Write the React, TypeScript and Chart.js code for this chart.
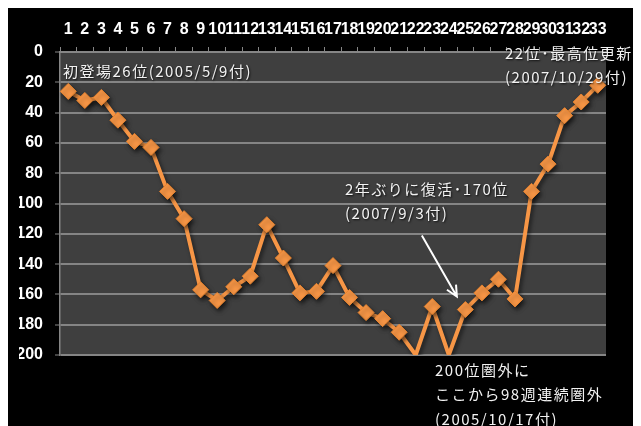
import React, { useEffect, useRef } from "react";
import { Chart, registerables } from "chart.js";

Chart.register(...registerables);

const weekLabels = [
  "1", "2", "3", "4", "5", "6", "7", "8", "9", "10", "11",
  "12", "13", "14", "15", "16", "17", "18", "19", "20", "21", "22",
  "23", "24", "25", "26", "27", "28", "29", "30", "31", "32", "33",
];

const ranks = [
  26, 32, 30, 45, 59, 63, 92, 110, 157, 164, 155,
  148, 114, 136, 159, 158, 141, 162, 172, 176, 185, 200,
  168, 200, 170, 159, 150, 163, 92, 74, 42, 33, 22,
];

const rankTicks = [0, 20, 40, 60, 80, 100, 120, 140, 160, 180, 200];

const annotationFirst = "初登場26位(2005/5/9付)";
const annotationBest = ["22位･最高位更新", "(2007/10/29付)"];
const annotationRevive = ["2年ぶりに復活･170位", "(2007/9/3付)"];
const annotationOut = ["200位圏外に", "ここから98週連続圏外", "(2005/10/17付)"];
const reviveIndex = 24;

const LINE = "#F79646";
const AXIS = "#868686";
const tickFont = { family: "'Liberation Sans Narrow', 'Liberation Sans', Arial, sans-serif", size: 16, weight: "bold" as const };
const jpFont = "15px 'Noto Sans CJK JP', sans-serif";

export default function App() {
  const ref = useRef<HTMLCanvasElement | null>(null);

  useEffect(() => {
    document.body.style.overflow = "hidden";
    const canvas = ref.current!;

    const bgPlugin = {
      id: "bg",
      beforeDraw(chart: any) {
        const { ctx, chartArea } = chart;
        ctx.save();
        ctx.fillStyle = "#000000";
        ctx.fillRect(0, 0, chart.width, chart.height);
        ctx.fillStyle = "#3f3f3f";
        ctx.fillRect(chartArea.left, chartArea.top, chartArea.right - chartArea.left, chartArea.bottom - chartArea.top);
        ctx.restore();
      },
    };

    const shadowPlugin = {
      id: "shadow",
      beforeDatasetsDraw(chart: any) {
        const ctx = chart.ctx;
        ctx.save();
        ctx.shadowColor = "rgba(0,0,0,0.55)";
        ctx.shadowBlur = 4;
        ctx.shadowOffsetX = 2;
        ctx.shadowOffsetY = 3;
      },
      afterDatasetsDraw(chart: any) {
        chart.ctx.restore();
      },
    };

    const textPlugin = {
      id: "notes",
      afterDraw(chart: any) {
        const ctx = chart.ctx;
        const xs = chart.scales.x;
        const ys = chart.scales.y;
        ctx.save();
        ctx.font = jpFont;
        (ctx as any).letterSpacing = "1.5px";
        ctx.textBaseline = "middle";
        ctx.textAlign = "left";
        ctx.shadowColor = "rgba(0,0,0,0.8)";
        ctx.shadowBlur = 2;
        ctx.shadowOffsetX = 1;
        ctx.shadowOffsetY = 1;
        ctx.fillStyle = "#f2f2f2";
        const put = (lines: string[], x: number, y: number) => {
          lines.forEach((t, i) => ctx.fillText(t, x, y + i * 24.5));
        };
        put([annotationFirst], 55, 63);
        put(annotationBest, 497, 45);
        put(annotationRevive, 337, 181);
        put(annotationOut, 427, 362);

        // arrow to the revival point
        const px = xs.getPixelForValue(reviveIndex);
        const py = ys.getPixelForValue(ranks[reviveIndex]);
        const tx = px - 8.5;
        const ty = py - 13;
        const sx = px - 43.5;
        const sy = py - 74;
        ctx.shadowColor = "rgba(0,0,0,0)";
        ctx.strokeStyle = "#ffffff";
        ctx.lineWidth = 2;
        ctx.beginPath();
        ctx.moveTo(sx, sy);
        ctx.lineTo(tx, ty);
        const ang = Math.atan2(ty - sy, tx - sx);
        const len = 12;
        ctx.moveTo(tx - len * Math.cos(ang - 0.45), ty - len * Math.sin(ang - 0.45));
        ctx.lineTo(tx, ty);
        ctx.lineTo(tx - len * Math.cos(ang + 0.45), ty - len * Math.sin(ang + 0.45));
        ctx.stroke();
        ctx.restore();
      },
    };

    const chart = new Chart(canvas, {
      type: "line",
      data: {
        labels: weekLabels,
        datasets: [
          {
            data: ranks,
            borderColor: LINE,
            borderWidth: 4,
            tension: 0,
            pointStyle: "rectRot",
            pointRadius: (c: any) => (ranks[c.dataIndex] >= 200 ? 0 : 8),
            pointBackgroundColor: LINE,
            pointBorderColor: "#E8842F",
            pointBorderWidth: 1,
          },
        ],
      },
      options: {
        animation: false,
        responsive: false,
        devicePixelRatio: 1,
        layout: { padding: { left: 11, top: 8, right: 35, bottom: 71 } },
        plugins: { legend: { display: false }, tooltip: { enabled: false } },
        scales: {
          x: {
            type: "category",
            position: "top",
            offset: true,
            grid: { offset: true, drawOnChartArea: false, drawTicks: true, tickLength: 5, color: AXIS, lineWidth: 1 },
            border: { color: AXIS, width: 1 },
            ticks: { color: "#ffffff", font: tickFont, padding: 8, autoSkip: false, maxRotation: 0, minRotation: 0 },
            afterFit: (s: any) => { s.height = 36; },
          },
          y: {
            reverse: true,
            min: 0,
            max: 200,
            afterBuildTicks: (s: any) => { s.ticks = rankTicks.map((v) => ({ value: v })); },
            grid: { color: "#858585", lineWidth: 2, tickLength: 5, tickColor: AXIS, tickWidth: 1 },
            border: { color: AXIS, width: 1.5 },
            ticks: { color: "#ffffff", font: tickFont, padding: 12 },
            afterFit: (s: any) => { s.width = 41; },
          },
        },
      },
      plugins: [bgPlugin, shadowPlugin, textPlugin],
    } as any);

    return () => chart.destroy();
  }, []);

  return (
    <div style={{ width: 633, height: 418 }}>
      <canvas ref={ref} width={633} height={418} style={{ display: "block", width: 633, height: 418 }} />
    </div>
  );
}
